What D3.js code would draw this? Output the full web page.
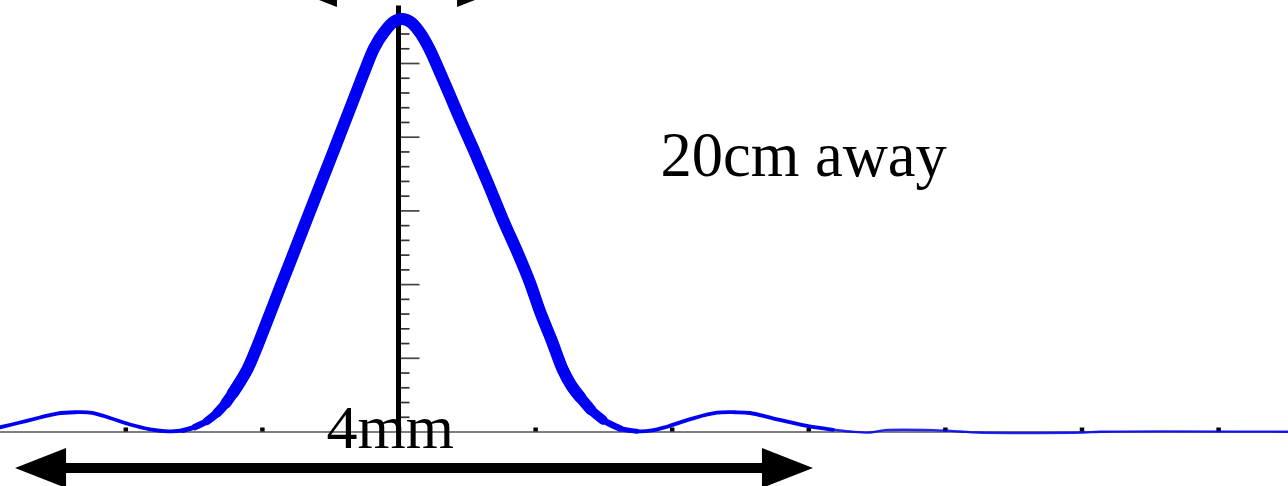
<!DOCTYPE html>
<html>
<head>
<meta charset="utf-8">
<script src="https://cdn.jsdelivr.net/npm/d3@7"></script>
<style>
  html, body { margin: 0; padding: 0; background: #ffffff; overflow: hidden; }
  svg { display: block; }
</style>
</head>
<body>
<div id="chart"></div>
<script>
// ---------------- data ----------------
// horizontal position, in axis-tick units (0 = centre of the pattern)
const xPos = [
  -2.917, -2.771, -2.625, -2.500, -2.368, -2.244, -2.112, -1.966, -1.819, -1.687,
  -1.578, -1.490, -1.402, -1.329, -1.263, -1.212, -1.109, -1.036, -0.950, -0.865,
  -0.787, -0.693, -0.567, -0.472, -0.387, -0.316, -0.245, -0.178, -0.104, -0.037,
   0.026,  0.088,  0.154,  0.223,  0.296,  0.375,  0.453,  0.551,  0.654,  0.775,
   0.873,  0.963,  1.040,  1.120,  1.204,  1.263,  1.329,  1.409,  1.497,  1.622,
   1.746,  1.856,  1.966,  2.156,  2.332,  2.464,  2.573,  2.742,  2.991,  3.181,
   3.306,  3.452,  3.562,  3.913,  4.111,  4.236,  5.011,  5.135,  6.512
];
// relative intensity, in major-tick units of the vertical axis
const intensity = [
   0.057,  0.122,  0.190,  0.244,  0.261,  0.254,  0.183,  0.095,  0.030,  0.003,
   0.014,  0.061,  0.142,  0.251,  0.387,  0.522,  0.834,  1.147,  1.554,  1.961,
   2.327,  2.775,  3.372,  3.820,  4.227,  4.566,  4.905,  5.204,  5.421,  5.556,
   5.597,  5.556,  5.421,  5.204,  4.905,  4.566,  4.227,  3.820,  3.372,  2.829,
   2.422,  2.015,  1.608,  1.242,  0.834,  0.631,  0.468,  0.292,  0.156,  0.041,
   0.003,  0.014,  0.065,  0.179,  0.255,  0.261,  0.251,  0.179,  0.075,  0.023,
   0.000, -0.014,  0.018,  0.018,  0.000, -0.014, -0.014, -0.003, -0.003
];
// extents of the central lobe used for the tapering (thicker) stroke
const lobeBands = [
  [-1.60, 1.76], [-1.50, 1.70], [-1.41, 1.60], [-1.34, 1.50], [-1.27, 1.42], [-1.22, 1.35]
];
const faintTailStart = 3.30;

const xTicks = [-2, -1, 0, 1, 2, 3, 4, 5, 6];
const yMajorTicks = [1, 2, 3, 4, 5];
const yMinorTicks = [0.2, 0.4, 0.6, 0.8, 1.2, 1.4, 1.6, 1.8, 2.2, 2.4, 2.6, 2.8,
                     3.2, 3.4, 3.6, 3.8, 4.2, 4.4, 4.6, 4.8, 5.2, 5.4, 5.6];
const yAxisTop = 5.78;

const labelDistance = "20cm away";
const labelWidth = "4mm";
const distancePos = [1.918, 3.467];
const widthLabelPos = [-0.527, -0.224];
const bottomArrow = [-2.807, 3.034, -0.495];
const topArrow = [-0.824, 0.802, 6.031];

// ---------------- layout ----------------
const W = 1288, H = 486;
const originX = 398.5, tickStepX = 136.6;
const originY = 431.5, tickStepY = 73.7;

const x = d3.scaleLinear().domain([-3, 7])
  .range([originX - 3 * tickStepX, originX + 7 * tickStepX]);
const y = d3.scaleLinear().domain([0, 6])
  .range([originY, originY - 6 * tickStepY]);

const svg = d3.select("#chart").append("svg")
  .attr("width", W).attr("height", H)
  .style("background", "#ffffff");

const blue = "#0000f5";
const pts = xPos.map((v, i) => ({ x: v, y: intensity[i] }));

// horizontal axis
const gx = svg.append("g").attr("transform", `translate(0,${y(0)})`)
  .call(d3.axisTop(x).tickValues(xTicks).tickSize(4).tickSizeOuter(0).tickFormat(""));
gx.select(".domain").attr("stroke", "#555").attr("stroke-width", 1.6);
gx.selectAll(".tick line").attr("stroke", "#000").attr("stroke-width", 4.5);

// vertical axis
const gyMinor = svg.append("g").attr("transform", `translate(${x(0)},0)`)
  .call(d3.axisRight(y).tickValues(yMinorTicks).tickSize(11).tickFormat(""));
gyMinor.select(".domain").remove();
gyMinor.selectAll(".tick line").attr("stroke", "#333").attr("stroke-width", 1.7);

const gyMajor = svg.append("g").attr("transform", `translate(${x(0)},0)`)
  .call(d3.axisRight(y).tickValues(yMajorTicks).tickSize(21).tickFormat(""));
gyMajor.select(".domain").remove();
gyMajor.selectAll(".tick line").attr("stroke", "#444").attr("stroke-width", 1.7);

svg.append("line")
  .attr("x1", x(0)).attr("x2", x(0))
  .attr("y1", y(0)).attr("y2", y(yAxisTop))
  .attr("stroke", "#000").attr("stroke-width", 5);

// curve
const line = d3.line().x(d => x(d.x)).y(d => y(d.y)).curve(d3.curveCatmullRom.alpha(0.5));

svg.append("path").datum(pts.filter(d => d.x >= faintTailStart - 0.2))
  .attr("d", line).attr("fill", "none")
  .attr("stroke", blue).attr("stroke-width", 2.4).attr("stroke-opacity", 0.85);

svg.append("path").datum(pts.filter(d => d.x <= faintTailStart))
  .attr("d", line).attr("fill", "none")
  .attr("stroke", blue).attr("stroke-width", 3.8)
  .attr("stroke-linejoin", "round").attr("stroke-linecap", "round");

const bandWidths = [5, 6.5, 8, 9.5, 11, 12];
lobeBands.forEach((r, i) => {
  svg.append("path").datum(pts.filter(d => d.x >= r[0] && d.x <= r[1]))
    .attr("d", line).attr("fill", "none")
    .attr("stroke", blue).attr("stroke-width", bandWidths[i])
    .attr("stroke-linejoin", "round").attr("stroke-linecap", "round");
});

// arrows
function doubleArrow(x1v, x2v, yv) {
  const xa = x(x1v), xb = x(x2v), yy = y(yv);
  const headLen = 51, headHalf = 20;
  const g = svg.append("g");
  g.append("line")
    .attr("x1", xa + headLen - 2).attr("x2", xb - headLen + 2)
    .attr("y1", yy).attr("y2", yy)
    .attr("stroke", "#000").attr("stroke-width", 10);
  g.append("path")
    .attr("d", `M${xa},${yy} L${xa + headLen},${yy - headHalf} L${xa + headLen},${yy + headHalf} Z`)
    .attr("fill", "#000");
  g.append("path")
    .attr("d", `M${xb},${yy} L${xb - headLen},${yy - headHalf} L${xb - headLen},${yy + headHalf} Z`)
    .attr("fill", "#000");
}
doubleArrow(bottomArrow[0], bottomArrow[1], bottomArrow[2]);
doubleArrow(topArrow[0], topArrow[1], topArrow[2]);

// labels
svg.append("text")
  .attr("x", x(distancePos[0])).attr("y", y(distancePos[1]))
  .attr("font-family", "'Liberation Serif', 'Times New Roman', serif")
  .attr("font-size", 62.5).attr("fill", "#000")
  .text(labelDistance);

svg.append("text")
  .attr("x", x(widthLabelPos[0])).attr("y", y(widthLabelPos[1]))
  .attr("font-family", "'Liberation Serif', 'Times New Roman', serif")
  .attr("font-size", 62).attr("fill", "#000")
  .text(labelWidth);
</script>
</body>
</html>
